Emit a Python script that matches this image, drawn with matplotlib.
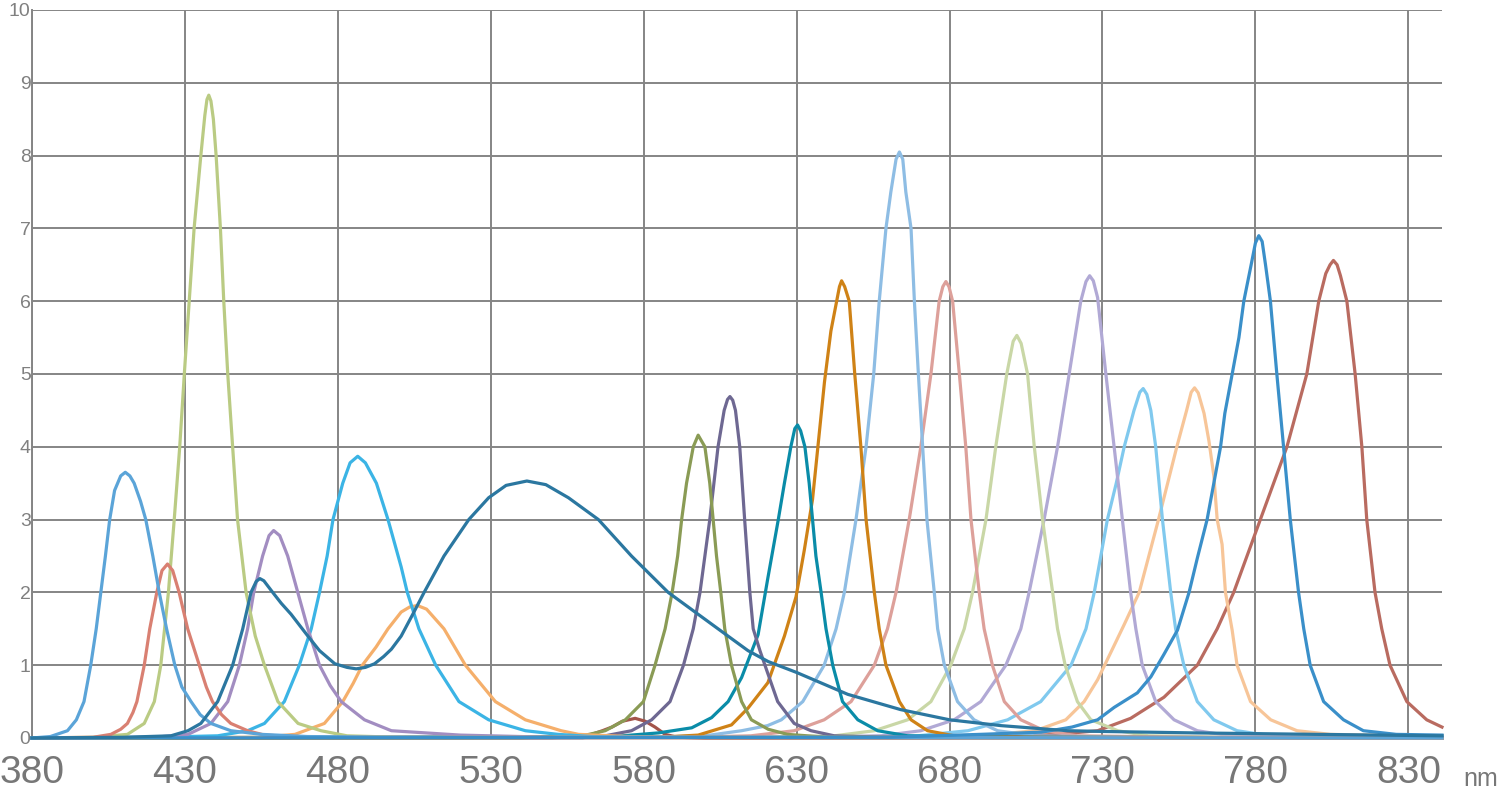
import matplotlib
matplotlib.use("Agg")
import matplotlib.pyplot as plt

plt.rcParams['font.family'] = ['Liberation Sans', 'DejaVu Sans']

x_ticks = [380, 430, 480, 530, 580, 630, 680, 730, 780, 830]
y_ticks = [0, 1, 2, 3, 4, 5, 6, 7, 8, 9, 10]

# ---- series: wavelength (nm) / value pairs ----
s01_wl = [380, 386, 391.6, 394.5, 397, 399.2, 401, 402.5, 404, 405.4, 407, 409, 410.5, 412, 413.4, 415.5, 417.2, 419.5, 421.6, 424, 426.7, 429, 432, 435, 438.5, 445, 455, 470, 500, 841]
s01_v = [0, 0.02, 0.1, 0.25, 0.5, 1.0, 1.5, 2.0, 2.5, 3.0, 3.4, 3.6, 3.65, 3.6, 3.5, 3.25, 3.0, 2.5, 2.0, 1.5, 1.0, 0.7, 0.5, 0.32, 0.2, 0.1, 0.05, 0.02, 0.01, 0.0]

s02_wl = [380, 400, 405.8, 409, 411.2, 413, 414.3, 415.5, 416.7, 418.5, 420.8, 422.5, 424.3, 426, 428.1, 430.9, 432.8, 434.7, 437, 439, 442, 445, 450.5, 456, 470, 841]
s02_v = [0, 0.01, 0.05, 0.12, 0.2, 0.35, 0.5, 0.75, 1.0, 1.5, 2.0, 2.3, 2.39, 2.3, 2.0, 1.5, 1.25, 1.0, 0.7, 0.5, 0.32, 0.2, 0.1, 0.04, 0.01, 0]

s03_wl = [380, 400, 411.2, 416.7, 420, 422.1, 424.6, 426.5, 428.3, 429.8, 431.4, 433, 435.2, 436.5, 437.2, 437.8, 438.5, 439.3, 440.2, 441.6, 442.7, 444, 445.6, 447.2, 450, 453, 456, 460.4, 467, 474.5, 483, 500, 841]
s03_v = [0, 0.01, 0.05, 0.2, 0.5, 1, 2, 3, 4, 5, 6, 7, 8, 8.55, 8.77, 8.83, 8.75, 8.5, 8, 7, 6, 5, 4, 3, 2, 1.4, 1, 0.5, 0.2, 0.1, 0.03, 0.01, 0]

s04_wl = [380, 410, 425.4, 431, 435.2, 440.7, 445.6, 448.9, 451.6, 453.3, 454.5, 455.8, 458.7, 461.5, 464.7, 470.2, 474, 479, 483, 486, 489, 492, 495, 497.5, 500.7, 504.5, 508.2, 514.7, 522.8, 529.3, 535, 541.8, 548, 555.4, 565.2, 576, 588, 604.3, 614.1, 620.7, 630, 646.7, 664, 680, 696.8, 718.6, 730, 760, 800, 841]
s04_v = [0, 0.01, 0.03, 0.1, 0.2, 0.5, 1.0, 1.5, 2.0, 2.15, 2.19, 2.16, 2.0, 1.85, 1.7, 1.4, 1.2, 1.02, 0.97, 0.95, 0.97, 1.02, 1.12, 1.22, 1.4, 1.7, 2.0, 2.5, 3.0, 3.3, 3.47, 3.53, 3.48, 3.3, 3.0, 2.5, 2.0, 1.5, 1.2, 1.05, 0.9, 0.6, 0.39, 0.25, 0.17, 0.1, 0.09, 0.07, 0.05, 0.03]

s05_wl = [380, 420, 431, 438.5, 444, 447.8, 450.5, 452.5, 455.4, 457.5, 459, 461, 463.6, 466.9, 470.2, 474, 477.5, 481.1, 488.7, 497.5, 520, 550, 841]
s05_v = [0, 0.01, 0.05, 0.2, 0.5, 1, 1.5, 2, 2.5, 2.78, 2.85, 2.78, 2.5, 2, 1.5, 1, 0.72, 0.5, 0.25, 0.1, 0.04, 0.01, 0]

s06_wl = [380, 420, 440.7, 450.5, 456, 462.5, 467.4, 471.3, 474, 476.5, 478.4, 481.6, 484, 486.5, 489, 492.6, 496.4, 500.7, 502.7, 506.5, 512, 519.6, 529.3, 541.3, 552, 563, 580, 841]
s06_v = [0, 0.01, 0.03, 0.1, 0.2, 0.5, 1, 1.5, 2, 2.5, 3, 3.5, 3.78, 3.87, 3.78, 3.5, 3, 2.35, 2, 1.5, 1, 0.5, 0.25, 0.1, 0.05, 0.02, 0.01, 0]

s07_wl = [380, 455, 466, 475.6, 481.6, 485, 488, 492.5, 496.4, 500.7, 503.5, 506, 509, 514.7, 521.7, 531.5, 541.3, 553, 558.7, 575, 600, 841]
s07_v = [0, 0.01, 0.05, 0.2, 0.5, 0.75, 1.0, 1.25, 1.5, 1.73, 1.8, 1.82, 1.77, 1.5, 1.0, 0.5, 0.25, 0.1, 0.05, 0.02, 0.01, 0]

s08_wl = [380, 550, 558, 563, 566.5, 569.6, 573, 577.2, 580.5, 583.7, 587, 591, 600, 841]
s08_v = [0, 0.005, 0.02, 0.05, 0.1, 0.15, 0.23, 0.27, 0.23, 0.15, 0.05, 0.01, 0.0, 0]

s09_wl = [380, 540, 560, 567.4, 574, 579.9, 583.7, 587, 589.3, 591.1, 592.4, 594, 596.2, 597.8, 600, 601.6, 602.7, 603.8, 605.2, 606.5, 608.7, 612, 615.2, 620.7, 627, 640, 841]
s09_v = [0, 0.005, 0.03, 0.1, 0.25, 0.5, 1, 1.5, 2, 2.5, 3, 3.5, 4, 4.16, 4, 3.5, 3, 2.5, 2, 1.5, 1, 0.5, 0.25, 0.12, 0.05, 0.01, 0]

s10_wl = [380, 560, 567.4, 576, 582.6, 588.6, 593, 596.2, 598.4, 601.6, 604.3, 606.3, 607.4, 608.2, 609.1, 610, 611.4, 613, 614.7, 615.8, 618, 620.3, 623.8, 629.2, 634.7, 642.3, 660, 841]
s10_v = [0, 0.005, 0.03, 0.1, 0.25, 0.5, 1, 1.5, 2, 3, 4, 4.5, 4.65, 4.69, 4.64, 4.5, 4, 3, 2, 1.5, 1.2, 0.92, 0.5, 0.2, 0.1, 0.03, 0.01, 0]

s11_wl = [380, 570, 584.8, 595.7, 602.2, 607.6, 612, 617.4, 620.6, 624, 626, 628.1, 629.4, 630.3, 631.3, 632.7, 634.1, 635.2, 636.3, 638, 639.6, 641.8, 645, 650, 656.5, 666.3, 700, 841]
s11_v = [0, 0.02, 0.07, 0.14, 0.28, 0.5, 0.83, 1.42, 2.2, 3, 3.5, 4, 4.25, 4.3, 4.22, 4, 3.5, 3, 2.5, 2, 1.5, 1, 0.5, 0.25, 0.1, 0.03, 0.01, 0]

s12_wl = [380, 585, 597.8, 608.7, 614.1, 620.6, 626, 629.8, 632.5, 635.2, 636.9, 639.1, 641.2, 642.9, 644, 644.7, 645.7, 647.2, 649, 651, 652.7, 655.4, 657, 659.2, 663.6, 667.4, 672.8, 681.5, 710, 841]
s12_v = [0, 0.01, 0.04, 0.18, 0.41, 0.76, 1.4, 1.94, 2.58, 3.28, 3.98, 4.89, 5.59, 5.96, 6.2, 6.28, 6.2, 6.0, 5.0, 4.0, 3.0, 2.0, 1.5, 1.0, 0.5, 0.25, 0.1, 0.03, 0.01, 0]

s13_wl = [380, 580, 600, 612, 620.5, 625, 632, 639, 642.9, 645.6, 649.4, 652.7, 655.2, 657, 659.2, 660.8, 662.5, 663.6, 664.7, 665.7, 667.4, 668.5, 669.8, 671.2, 672.6, 675, 676.1, 678.3, 682.6, 688, 695.7, 707.7, 740, 841]
s13_v = [0, 0.01, 0.03, 0.1, 0.17, 0.25, 0.5, 1.0, 1.5, 2, 3, 4, 5, 6, 7, 7.5, 7.95, 8.05, 7.95, 7.5, 7, 6, 5, 4, 3, 2, 1.5, 1, 0.5, 0.25, 0.1, 0.03, 0.01, 0]

s14_wl = [380, 595, 615, 629.2, 639, 647.8, 655.4, 659.7, 662.5, 666.8, 670.6, 673.9, 676.6, 677.8, 678.8, 679.8, 681, 683.2, 685.3, 687, 689.7, 691.3, 694, 697.9, 703.3, 711, 721.8, 760, 841]
s14_v = [0, 0.01, 0.03, 0.1, 0.25, 0.5, 1, 1.5, 2, 3, 4, 5, 6, 6.2, 6.27, 6.2, 6, 5, 4, 3, 2, 1.5, 1, 0.5, 0.25, 0.1, 0.03, 0.01, 0]

s15_wl = [380, 620, 642.3, 655.4, 666.3, 673.9, 680.4, 684.8, 687.5, 691.9, 695.1, 698.7, 700.8, 702, 703.4, 705.5, 707.7, 710.4, 713.7, 715.3, 717.8, 721.8, 726.2, 735, 745, 770, 841]
s15_v = [0, 0.01, 0.03, 0.1, 0.25, 0.5, 1, 1.5, 2, 3, 4, 5, 5.45, 5.53, 5.42, 5, 4, 3, 2, 1.5, 1, 0.5, 0.25, 0.1, 0.03, 0.01, 0]

s16_wl = [380, 630, 657.6, 670.6, 681.5, 690.2, 698.4, 703.3, 706, 710.9, 715.3, 719.1, 722.9, 724.6, 725.8, 727, 728.4, 731.1, 733.8, 736.5, 739.2, 740.9, 743, 747.4, 753.4, 761, 771.8, 800, 841]
s16_v = [0, 0.01, 0.03, 0.1, 0.25, 0.5, 1, 1.5, 2, 3, 4, 5, 6, 6.27, 6.35, 6.28, 6.05, 5, 4, 3, 2, 1.5, 1, 0.5, 0.25, 0.1, 0.03, 0.01, 0]

s17_wl = [380, 640, 669.5, 686, 699, 709.8, 719.7, 724.6, 727.3, 731.6, 734.5, 737.1, 740.3, 742.2, 743.3, 744.5, 745.8, 747.4, 749.6, 752.3, 753.9, 756.6, 761, 766.4, 774, 784.9, 820, 841]
s17_v = [0, 0.01, 0.03, 0.1, 0.25, 0.5, 1, 1.5, 2, 3, 3.5, 4, 4.5, 4.75, 4.8, 4.72, 4.5, 4, 3, 2, 1.5, 1, 0.5, 0.25, 0.1, 0.03, 0.01, 0]

s18_wl = [380, 670, 690, 708, 718, 724, 728.4, 733, 737, 742, 748.3, 754.3, 757.5, 759, 760.1, 761.3, 763.2, 764.8, 766.4, 767.5, 769.1, 770.2, 772.4, 774, 778.4, 785, 793.6, 804.5, 830, 841]
s18_v = [0, 0.01, 0.03, 0.1, 0.25, 0.5, 0.8, 1.2, 1.55, 2.0, 3.0, 4.0, 4.5, 4.75, 4.81, 4.74, 4.46, 4.08, 3.6, 3.0, 2.66, 2.0, 1.48, 1.0, 0.5, 0.25, 0.1, 0.05, 0.03, 0.03]

s19_wl = [380, 660, 690, 710, 720, 728.4, 733.8, 741.4, 745.8, 750.1, 754.5, 758.3, 761, 764.2, 766.4, 768.6, 770, 772.4, 774.6, 776.2, 778.6, 780, 781.1, 782.2, 783.3, 784.9, 787, 789.2, 791.4, 794.1, 795.8, 797.9, 802.3, 808.8, 815.3, 826, 841]
s19_v = [0, 0.01, 0.05, 0.08, 0.15, 0.25, 0.42, 0.62, 0.84, 1.15, 1.48, 2.0, 2.47, 3.0, 3.5, 4.0, 4.46, 5.0, 5.5, 6.0, 6.5, 6.8, 6.9, 6.82, 6.5, 6.0, 5.0, 4.0, 3.0, 2.0, 1.5, 1.0, 0.5, 0.25, 0.1, 0.05, 0.04]

s20_wl = [380, 680, 700, 715, 728.4, 739.2, 750.1, 761, 767.5, 772.9, 781.6, 790.3, 796.8, 800.7, 803, 804.4, 805.5, 806.7, 807.8, 809.9, 812.6, 814.8, 816.4, 819.1, 821.3, 824, 829.5, 836, 841]
s20_v = [0, 0.005, 0.02, 0.05, 0.1, 0.27, 0.56, 1, 1.5, 2, 3, 4, 5, 6, 6.38, 6.5, 6.56, 6.5, 6.35, 6, 5, 4, 3, 2, 1.5, 1, 0.5, 0.25, 0.15]

series = [
    (s20_wl, s20_v, '#B96B60'),
    (s08_wl, s08_v, '#A3544A'),
    (s18_wl, s18_v, '#F7C598'),
    (s17_wl, s17_v, '#80C9EE'),
    (s16_wl, s16_v, '#B1A9D5'),
    (s15_wl, s15_v, '#C9D7A6'),
    (s14_wl, s14_v, '#DDA09A'),
    (s13_wl, s13_v, '#8EBDE4'),
    (s12_wl, s12_v, '#CF8216'),
    (s11_wl, s11_v, '#0A8CA8'),
    (s10_wl, s10_v, '#6E6892'),
    (s09_wl, s09_v, '#8A9B55'),
    (s07_wl, s07_v, '#F5AF6B'),
    (s06_wl, s06_v, '#3BB4E5'),
    (s05_wl, s05_v, '#A28DC1'),
    (s03_wl, s03_v, '#BACB83'),
    (s02_wl, s02_v, '#D98072'),
    (s01_wl, s01_v, '#5BA4D8'),
    (s19_wl, s19_v, '#3A8FC9'),
    (s04_wl, s04_v, '#2B77A0'),
]

fig = plt.figure(figsize=(15, 7.91), dpi=100)
ax = fig.add_axes([32 / 1500, 53 / 791, 1410 / 1500, 728 / 791])

for wl, v, c in series:
    ax.plot(wl, v, color=c, lw=2.3, solid_joinstyle='round', clip_on=False, zorder=3)

ax.set_xlim(380, 841)
ax.set_ylim(0, 10)
ax.set_xticks(x_ticks)
ax.set_yticks(y_ticks)
ax.set_xticklabels([str(t) for t in x_ticks])
ax.set_yticklabels([str(t) for t in y_ticks])
ax.grid(True, color='#858585', lw=1.4, zorder=0)
ax.set_axisbelow(True)
for s in ['top', 'right', 'bottom']:
    ax.spines[s].set_visible(False)
ax.spines['left'].set_color('#858585')
ax.spines['left'].set_linewidth(1.4)
ax.tick_params(axis='x', length=0, pad=12, labelsize=28, labelcolor='#777777')
ax.tick_params(axis='y', length=0, pad=1, labelsize=14, labelcolor='#808080')

fig.text(1463 / 1500, 5 / 791, 'nm', fontsize=18, color='#777777', ha='left', va='baseline')

fig.savefig('out.png', dpi=100)
